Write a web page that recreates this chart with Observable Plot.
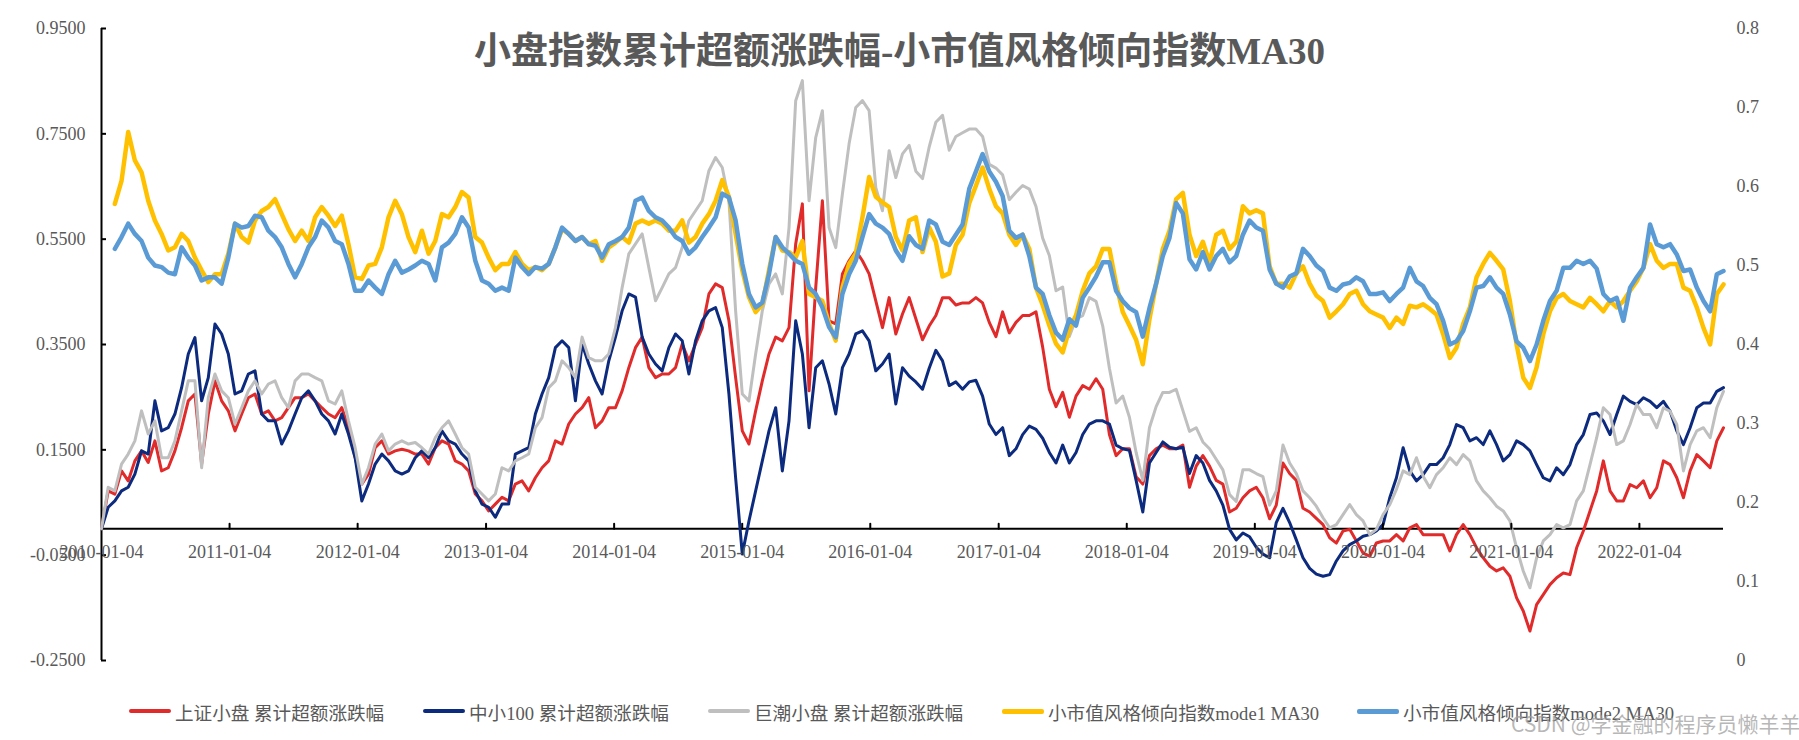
<!DOCTYPE html>
<html>
<head>
<meta charset="utf-8">
<script src="https://cdn.jsdelivr.net/npm/d3@7"></script>
<script src="https://cdn.jsdelivr.net/npm/@observablehq/plot@0.6"></script>
<style>
html, body { margin: 0; padding: 0; background: #fff; }
#wrap { position: relative; width: 1799px; height: 740px; overflow: hidden; background: #fff; }
#chart { position: absolute; left: 0; top: 0; }
#title { position: absolute; left: 0; top: 30px; width: 1799px; text-align: center;
  font-family: "Liberation Serif", "Noto Sans CJK SC", serif; font-weight: bold; font-size: 37px;
  line-height: 44px; color: #595959; white-space: nowrap; }
.li { position: absolute; top: 698px; height: 26px; display: flex; align-items: center;
  font-family: "Liberation Serif", "Noto Sans CJK SC", serif; font-size: 18.6px; color: #595959; white-space: nowrap; }
.sw { display: inline-block; width: 42px; height: 4px; border-radius: 2px; margin-right: 4px; }
#wm { position: absolute; left: 1511px; top: 711px; font-family: "Noto Sans CJK SC", sans-serif; font-size: 21px;
  color: rgba(160,160,160,0.75); white-space: nowrap; line-height: 24px; }
</style>
</head>
<body>
<div id="wrap">
  <div id="chart"></div>
  <div id="title"></div>
  <div id="legend"></div>
  <div id="wm">CSDN @学金融的程序员懒羊羊</div>
</div>
<script>
// ---------- data (sampled every 1/19.2 year starting 2010-01-04) ----------
const startDate = "2010-01-04";
const samplesPerYear = 19.2;

// 上证小盘 累计超额涨跌幅 (left axis)
const shangzheng = [0,.072,.066,.110,.091,.129,.148,.126,.167,.110,.116,.148,.192,.243,.256,.123,.218,.281,.243,.224,
.186,.218,.249,.256,.218,.224,.205,.211,.230,.249,.249,.256,.243,.230,.218,.211,.230,.192,.135,.085,
.104,.154,.167,.142,.148,.151,.148,.142,.142,.123,.154,.167,.161,.129,.123,.110,.066,.053,.034,.047,
.060,.053,.085,.091,.072,.097,.116,.129,.167,.161,.199,.218,.230,.249,.192,.205,.230,.230,.262,.306,
.344,.364,.306,.287,.294,.294,.306,.351,.319,.351,.382,.446,.465,.458,.395,.287,.186,.161,.224,.281,
.332,.364,.357,.382,.541,.617,.262,.458,.623,.395,.389,.484,.509,.528,.509,.484,.433,.382,.439,.370,
.408,.439,.399,.359,.385,.405,.439,.439,.425,.429,.429,.439,.429,.392,.365,.412,.372,.392,.405,.405,
.412,.345,.265,.232,.259,.212,.252,.272,.265,.285,.265,.179,.139,.152,.152,.099,.085,.139,.152,.159,
.152,.152,.159,.079,.119,.139,.119,.092,.085,.032,.039,.059,.072,.079,.059,.019,.045,.125,.105,.092,
.039,.032,.020,.008,-.017,-.027,-.004,-.001,-.023,-.046,-.052,-.027,-.023,-.023,-.011,-.023,.002,.008,-.011,-.011,
-.011,-.011,-.042,-.011,.008,-.011,-.036,-.055,-.071,-.080,-.074,-.090,-.131,-.156,-.194,-.144,-.125,-.106,-.093,-.084,
-.087,-.036,-.004,.034,.072,.129,.072,.053,.053,.084,.078,.091,.059,.078,.129,.122,.097,.059,.110,.141,
.129,.116,.167,.192];

// 中小100 累计超额涨跌幅 (left axis)
const zhongxiao = [0,.041,.053,.072,.079,.104,.148,.142,.243,.186,.192,.218,.268,.332,.363,.243,.287,.389,.370,.332,
.256,.262,.294,.300,.218,.205,.205,.161,.186,.218,.249,.262,.243,.218,.205,.180,.218,.180,.135,.053,
.085,.123,.142,.129,.110,.104,.110,.135,.148,.135,.154,.186,.167,.161,.142,.129,.072,.047,.041,.022,
.047,.047,.142,.148,.154,.218,.256,.287,.344,.357,.344,.243,.351,.313,.281,.256,.319,.364,.414,.446,
.440,.364,.332,.313,.300,.344,.370,.357,.294,.357,.395,.414,.420,.382,.256,.097,-.048,.015,.072,.129,
.186,.230,.110,.205,.395,.332,.192,.306,.319,.275,.218,.306,.332,.370,.376,.357,.300,.313,.332,.237,
.306,.290,.279,.265,.305,.339,.319,.272,.279,.265,.279,.282,.252,.199,.179,.192,.139,.152,.179,.195,
.189,.172,.145,.125,.159,.125,.145,.179,.199,.205,.205,.199,.159,.152,.149,.092,.032,.125,.145,.165,
.155,.152,.155,.105,.139,.125,.092,.072,.045,-.001,-.021,-.008,-.015,-.035,-.048,-.055,.012,.039,.012,-.021,
-.055,-.075,-.086,-.090,-.087,-.061,-.042,-.030,-.023,-.014,-.011,-.004,.008,.059,.097,.154,.110,.091,.103,.122,
.122,.135,.160,.198,.192,.167,.173,.160,.186,.160,.129,.141,.167,.160,.148,.122,.097,.091,.116,.103,
.122,.160,.179,.217,.220,.205,.179,.217,.252,.242,.236,.249,.242,.230,.242,.223,.186,.160,.192,.230,
.239,.239,.261,.268];

// 巨潮小盘 累计超额涨跌幅 (left axis)
const juchao = [0,.079,.072,.123,.142,.167,.224,.180,.205,.135,.135,.167,.224,.281,.281,.116,.249,.294,.262,.249,
.199,.230,.262,.281,.256,.275,.281,.249,.230,.281,.294,.294,.287,.281,.243,.237,.262,.205,.154,.085,
.116,.161,.180,.148,.161,.167,.161,.164,.154,.142,.173,.192,.205,.180,.154,.142,.079,.066,.053,.066,
.116,.110,.129,.135,.142,.192,.211,.268,.281,.319,.306,.287,.364,.325,.319,.319,.332,.382,.458,.522,
.541,.560,.496,.433,.458,.484,.496,.534,.585,.604,.623,.680,.705,.686,.623,.414,.256,.243,.332,.414,
.465,.484,.446,.572,.813,.851,.623,.743,.794,.572,.534,.636,.731,.800,.813,.794,.648,.604,.718,.667,
.712,.728,.679,.665,.725,.772,.785,.719,.745,.752,.759,.759,.745,.692,.685,.672,.625,.639,.652,.645,
.612,.552,.519,.452,.459,.365,.399,.405,.439,.432,.385,.305,.239,.252,.212,.145,.092,.192,.232,.259,
.259,.265,.225,.185,.192,.165,.152,.132,.112,.065,.052,.112,.112,.105,.099,.045,.072,.159,.125,.105,
.072,.059,.043,.021,.002,.008,.027,.046,.027,.015,-.011,-.001,.027,.046,.075,.110,.103,.135,.100,.078,
.103,.116,.135,.122,.141,.129,.091,.072,.059,.043,.034,.015,-.036,-.080,-.112,-.055,-.023,-.011,.008,.002,
.008,.053,.072,.122,.173,.230,.217,.160,.167,.198,.236,.217,.217,.192,.230,.223,.198,.110,.160,.186,
.192,.173,.230,.261];

// 小市值风格倾向指数mode1 MA30 (right axis)
const mode1 = [null,null,.578,.607,.669,.633,.618,.582,.557,.540,.519,.523,.540,.531,.510,.494,.479,.489,.489,.515,
.553,.536,.529,.557,.569,.574,.584,.565,.546,.531,.544,.531,.561,.574,.563,.550,.563,.527,.485,.483,
.500,.502,.523,.561,.582,.565,.536,.517,.544,.515,.531,.565,.561,.574,.593,.586,.536,.529,.510,.494,
.502,.502,.517,.502,.494,.498,.494,.502,.523,.546,.540,.531,.536,.527,.531,.506,.523,.529,.536,.529,
.553,.557,.553,.557,.553,.544,.544,.557,.529,.536,.553,.565,.582,.608,.587,.540,.494,.460,.441,.451,
.494,.536,.519,.517,.510,.531,.464,.460,.455,.426,.405,.472,.502,.515,.561,.612,.587,.580,.574,.536,
.519,.557,.561,.517,.548,.530,.486,.490,.526,.539,.579,.601,.624,.597,.575,.566,.539,.526,.539,.521,
.472,.450,.424,.401,.390,.419,.437,.468,.490,.499,.521,.521,.477,.441,.424,.406,.375,.432,.477,.521,
.544,.584,.592,.539,.512,.530,.504,.539,.544,.521,.530,.575,.566,.570,.566,.499,.477,.477,.472,.490,
.499,.477,.462,.455,.434,.442,.451,.464,.468,.451,.442,.438,.434,.421,.434,.426,.449,.447,.451,.445,
.438,.413,.383,.396,.426,.447,.485,.502,.516,.506,.495,.455,.400,.358,.345,.371,.413,.442,.459,.464,
.455,.451,.447,.459,.451,.442,.455,.447,.455,.468,.480,.497,.527,.506,.497,.502,.502,.472,.468,.447,
.421,.400,.464,.476];

// 小市值风格倾向指数mode2 MA30 (right axis)
const mode2 = [null,null,.521,.536,.553,.540,.531,.510,.500,.498,.491,.489,.523,.510,.500,.481,.485,.485,.477,.510,
.553,.548,.550,.563,.561,.544,.536,.523,.502,.485,.502,.523,.536,.557,.548,.531,.527,.502,.468,.468,
.481,.472,.464,.489,.506,.491,.495,.500,.506,.502,.481,.523,.529,.540,.561,.548,.506,.481,.477,.468,
.472,.468,.510,.498,.489,.498,.496,.502,.523,.548,.540,.531,.536,.527,.525,.510,.527,.531,.536,.548,
.582,.586,.569,.561,.557,.548,.536,.531,.515,.523,.536,.548,.561,.591,.586,.557,.502,.464,.447,.453,
.489,.536,.523,.515,.506,.502,.472,.464,.447,.422,.409,.464,.489,.506,.536,.565,.553,.548,.540,.519,
.506,.537,.526,.521,.557,.552,.530,.526,.539,.552,.597,.619,.641,.619,.606,.588,.544,.535,.539,.512,
.472,.464,.437,.415,.406,.432,.424,.459,.472,.486,.504,.504,.468,.455,.446,.441,.410,.446,.477,.512,
.535,.579,.566,.508,.495,.517,.495,.512,.521,.504,.512,.539,.557,.548,.544,.495,.477,.472,.486,.490,
.521,.512,.500,.493,.472,.468,.476,.478,.485,.480,.464,.464,.466,.455,.464,.472,.497,.480,.474,.459,
.451,.430,.400,.404,.417,.442,.472,.474,.485,.472,.464,.438,.404,.396,.379,.400,.430,.455,.468,.497,
.497,.506,.502,.506,.496,.464,.455,.459,.430,.472,.485,.497,.552,.527,.523,.527,.514,.493,.495,.472,
.455,.442,.489,.493];

// axes
const leftTicks = [-0.25, -0.05, 0.15, 0.35, 0.55, 0.75, 0.95];
const rightTicks = [0, 0.1, 0.2, 0.3, 0.4, 0.5, 0.6, 0.7, 0.8];
const xTickLabels = ["2010-01-04","2011-01-04","2012-01-04","2013-01-04","2014-01-04","2015-01-04","2016-01-04",
  "2017-01-04","2018-01-04","2019-01-04","2020-01-04","2021-01-04","2022-01-04"];

const seriesNames = ["上证小盘 累计超额涨跌幅", "中小100 累计超额涨跌幅", "巨潮小盘 累计超额涨跌幅",
  "小市值风格倾向指数mode1 MA30", "小市值风格倾向指数mode2 MA30"];
const seriesColors = ["#E12A2A", "#0C2A7E", "#BFBFBF", "#FFC000", "#5B9BD5"];
const titleText = "小盘指数累计超额涨跌幅-小市值风格倾向指数MA30";

// ---------- build ----------
const N = shangzheng.length;
const t0 = new Date(startDate + "T00:00:00Z").getTime();
const dayMs = 86400000;
const dates = d3.range(N).map(i => new Date(t0 + Math.round(i * 365.25 / samplesPerYear * dayMs)));
const parse = d3.utcParse("%Y-%m-%d");
const fmt = d3.utcFormat("%Y-%m-%d");
const xTicks = xTickLabels.map(parse);

// right axis value -> left-axis equivalent (right 0..0.8 spans left -0.25..0.95)
const toLeft = r => r * 1.5 - 0.25;
const toRight = v => Math.round((v + 0.25) / 1.5 * 10) / 10;

function rows(arr, right) {
  return arr.map((v, i) => ({date: dates[i], v: v == null ? null : (right ? toLeft(v) : v)}));
}

const serifFont = '"Liberation Serif", "Noto Sans CJK SC", serif';
const tickUp = {draw(context, l) { context.moveTo(0, 0); context.lineTo(0, -l); }};

const chart = Plot.plot({
  width: 1799,
  height: 690,
  marginLeft: 101,
  marginRight: 76,
  marginTop: 28,
  marginBottom: 30,
  x: {type: "utc", domain: [dates[0], dates[N - 1]], axis: null},
  y: {domain: [-0.25, 0.95], axis: null},
  style: {fontFamily: serifFont, fontSize: "18px", color: "#595959", background: "white", overflow: "visible"},
  marks: [
    Plot.ruleY([0], {stroke: "black", strokeWidth: 2}),
    Plot.ruleX([dates[0]], {stroke: "black", strokeWidth: 2}),
    Plot.line(rows(shangzheng, false), {x: "date", y: "v", stroke: seriesColors[0], strokeWidth: 3}),
    Plot.line(rows(zhongxiao, false), {x: "date", y: "v", stroke: seriesColors[1], strokeWidth: 3}),
    Plot.line(rows(juchao, false), {x: "date", y: "v", stroke: seriesColors[2], strokeWidth: 3}),
    Plot.line(rows(mode1, true), {x: "date", y: "v", stroke: seriesColors[3], strokeWidth: 4.5}),
    Plot.line(rows(mode2, true), {x: "date", y: "v", stroke: seriesColors[4], strokeWidth: 4.5}),
    // left axis: inward ticks + labels
    Plot.axisY(leftTicks, {anchor: "left", label: null, tickSize: 5, dx: 5, tickFormat: () => "", stroke: "black", strokeWidth: 2}),
    Plot.axisY(leftTicks, {anchor: "left", label: null, tickSize: 0, tickPadding: 16, tickFormat: d => d.toFixed(4), fill: "#595959", fontSize: 18}),
    // right axis: labels only
    Plot.axisY(rightTicks.map(toLeft), {anchor: "right", label: null, tickSize: 0, tickPadding: 13, tickFormat: v => String(toRight(v)), fill: "#595959", fontSize: 18}),
    // x axis at zero: upward ticks and labels below
    Plot.vector(xTicks.slice(1), {x: d => d, y: d => 0, length: 5, rotate: 0, anchor: "start", shape: tickUp, stroke: "black", strokeWidth: 2}),
    Plot.text(xTicks, {x: d => d, y: d => 0, dy: 23, text: d => fmt(d), fill: "#595959", fontSize: 18, fontFamily: serifFont})
  ]
});
document.getElementById("chart").appendChild(chart);
document.getElementById("title").textContent = titleText;

// legend
const legendLeft = [129, 423, 708, 1002, 1357];
const legend = document.getElementById("legend");
seriesNames.forEach((name, i) => {
  const item = document.createElement("div");
  item.className = "li";
  item.style.left = legendLeft[i] + "px";
  const sw = document.createElement("span");
  sw.className = "sw";
  sw.style.background = seriesColors[i];
  sw.style.height = i >= 3 ? "5px" : "4px";
  const tx = document.createElement("span");
  tx.textContent = name;
  item.appendChild(sw);
  item.appendChild(tx);
  legend.appendChild(item);
});
</script>
</body>
</html>
